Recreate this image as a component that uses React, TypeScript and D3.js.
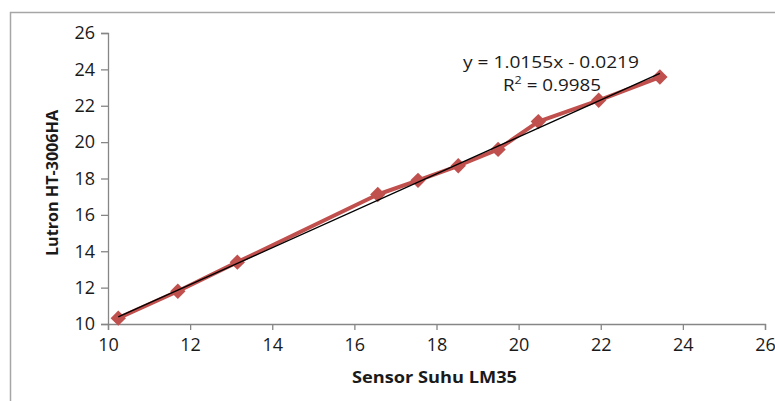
import React, { useEffect, useRef } from 'react';
import * as d3 from 'd3';

const sensorLM35 = [10.25, 11.7, 13.15, 16.57, 17.55, 18.53, 19.5, 20.48, 21.95, 23.44];
const lutron = [10.32, 11.8, 13.4, 17.12, 17.9, 18.7, 19.6, 21.13, 22.3, 23.58];
const ticks = [10, 12, 14, 16, 18, 20, 22, 24, 26];
const slope = 1.0155;
const intercept = -0.0219;
const equationText = 'y = 1.0155x - 0.0219';
const xTitle = 'Sensor Suhu LM35';
const yTitle = 'Lutron HT-3006HA';

const width = 775;
const height = 401;

export default function App() {
  const ref = useRef<SVGSVGElement>(null);

  useEffect(() => {
    const svg = d3.select(ref.current);
    svg.selectAll('*').remove();

    const margin = { top: 33, right: 10, bottom: 77, left: 108 };
    const x = d3.scaleLinear().domain([10, 26]).range([margin.left, 765]);
    const y = d3.scaleLinear().domain([10, 26]).range([height - margin.bottom, margin.top]);
    const font = "'Open Sans', 'Liberation Sans', sans-serif";
    const axisColor = '#868686';
    const ink = '#1a1a1a';

    // outer frame
    svg
      .append('rect')
      .attr('x', 10.5)
      .attr('y', 12.5)
      .attr('width', 900)
      .attr('height', 600)
      .attr('fill', 'white')
      .attr('stroke', '#a6a6a6')
      .attr('stroke-width', 1.5);

    const yAxis = svg
      .append('g')
      .attr('transform', `translate(${margin.left},0)`)
      .call(d3.axisLeft(y).tickValues(ticks).tickSize(7).tickPadding(6));
    const xAxis = svg
      .append('g')
      .attr('transform', `translate(0,${height - margin.bottom})`)
      .call(d3.axisBottom(x).tickValues(ticks).tickSize(6).tickPadding(8));

    [xAxis, yAxis].forEach((g) => {
      g.attr('font-size', null).attr('font-family', null);
      g.selectAll('path, line').attr('stroke', axisColor).attr('stroke-width', 1.3);
      g.selectAll('text')
        .attr('fill', ink)
        .attr('font-family', font)
        .attr('font-size', 18);
    });

    const pts = sensorLM35.map((v, i) => [v, lutron[i]] as [number, number]);

    svg
      .append('path')
      .datum(pts)
      .attr('fill', 'none')
      .attr('stroke', '#c0504d')
      .attr('stroke-width', 4)
      .attr('stroke-linejoin', 'round')
      .attr('d', d3.line().x((d) => x(d[0])).y((d) => y(d[1])));

    svg
      .selectAll('path.mark')
      .data(pts)
      .enter()
      .append('path')
      .attr('class', 'mark')
      .attr('transform', (d) => `translate(${x(d[0])},${y(d[1])})`)
      .attr('d', d3.symbol(d3.symbolDiamond2, 150))
      .attr('fill', '#c0504d');

    // linear trendline
    const xMin = d3.min(sensorLM35) as number;
    const xMax = d3.max(sensorLM35) as number;
    svg
      .append('line')
      .attr('x1', x(xMin))
      .attr('y1', y(slope * xMin + intercept))
      .attr('x2', x(xMax))
      .attr('y2', y(slope * xMax + intercept))
      .attr('stroke', '#000')
      .attr('stroke-width', 1.4);

    svg
      .append('text')
      .attr('x', 463)
      .attr('y', 68)
      .attr('textLength', 176)
      .attr('lengthAdjust', 'spacingAndGlyphs')
      .attr('font-family', font)
      .attr('font-size', 16.5)
      .attr('fill', ink)
      .text(equationText);
    const r2 = svg
      .append('text')
      .attr('x', 503)
      .attr('y', 91)
      .attr('textLength', 98)
      .attr('lengthAdjust', 'spacingAndGlyphs')
      .attr('font-family', font)
      .attr('font-size', 16.5)
      .attr('fill', ink);
    r2.append('tspan').text('R');
    r2.append('tspan').attr('dy', -7).attr('font-size', 11).text('2');
    r2.append('tspan').attr('dy', 7).text(' = 0.9985');

    svg
      .append('text')
      .attr('x', 352)
      .attr('y', 383)
      .attr('textLength', 165)
      .attr('lengthAdjust', 'spacingAndGlyphs')
      .attr('font-family', font)
      .attr('font-size', 16)
      .attr('font-weight', 'bold')
      .attr('fill', ink)
      .text(xTitle);
    svg
      .append('text')
      .attr('transform', 'translate(58,256) rotate(-90)')
      .attr('textLength', 146)
      .attr('lengthAdjust', 'spacingAndGlyphs')
      .attr('font-family', font)
      .attr('font-size', 16)
      .attr('font-weight', 'bold')
      .attr('fill', ink)
      .text(yTitle);
  }, []);

  return (
    <svg
      ref={ref}
      width={width}
      height={height}
      style={{ position: 'absolute', left: 0, top: 0, background: 'white' }}
    />
  );
}
